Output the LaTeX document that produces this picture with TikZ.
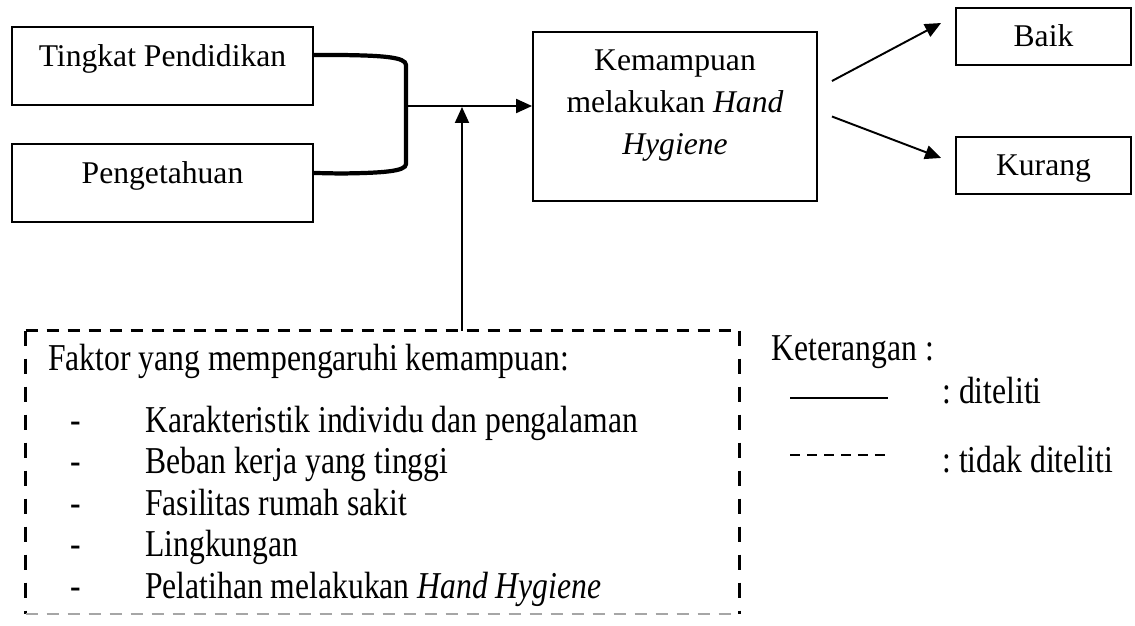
\documentclass[tikz,border=0pt]{standalone}
\usepackage{graphicx}
\usepackage{fontspec}
\setmainfont{Liberation Serif}
\usetikzlibrary{arrows.meta,positioning}
\frenchspacing
\newcommand{\tinggi}[1]{\scalebox{1}[1.2]{#1}}
\tikzset{>={Triangle[length=0.32cm,width=0.28cm]},
  kotak/.style={draw, line width=1.1pt, inner sep=0pt},
  variabel/.style={kotak, minimum width=6.02cm, text height=0.8cm, text depth=0.76cm},
  hasil/.style={kotak, minimum width=3.5cm, text height=0.78cm, text depth=0.36cm},
  teks/.style={anchor=base west, inner sep=0pt},
  garis/.style={line width=1.1pt},
  putus/.style={line width=1.7pt, dash pattern=on 0.24cm off 0.18cm}}

\begin{document}
\begin{tikzpicture}[x=0.02cm, y=-0.02cm, font=\fontsize{18}{24}\selectfont]
                \useasboundingbox (0,0) rectangle (1135,625);
                \node[variabel] (tp) at (162.5,66) {Tingkat Pendidikan};
                \node[variabel, below of=tp, node distance=2.34cm] (pk) {Pengetahuan};
                \node[kotak, minimum width=5.68cm, minimum height=3.38cm] (kemampuan) at (675,116.5) {};
                \node[align=center, anchor=north, inner sep=0pt] (kemtext) at ([yshift=-0.36cm]kemampuan.north)
                  {Kemampuan\\melakukan \textit{Hand}\\\textit{Hygiene}};
                \node[hasil] (baik) at (1043.5,36.5) {Baik};
                \node[hasil, below of=baik, node distance=2.58cm] (kurang) {Kurang};
                \node[minimum width=14.26cm, minimum height=5.66cm, inner sep=0pt] (faktor) at (382.5,472.5) {};
                % gabungan dua variabel
                \draw[line width=2.4pt] ([yshift=0.22cm]tp.east) -- (340,55) .. controls (382,55.5) and (406,57) .. (406,65)
                  -- (406,164) .. controls (406,171.5) and (382,173) .. (340,173.5) -- ([yshift=0.2cm]pk.east);
                \coordinate (gabung) at (406,106);
                \coordinate (masuk) at (462,106);
                \draw[->, garis] (gabung) -- (gabung -| kemampuan.west);
                \draw[->, garis] (faktor.north -| masuk) -- ([yshift=-0.02cm]masuk);
                \draw[->, garis] ([xshift=0.28cm,yshift=0.71cm]kemampuan.east) -- ([xshift=-0.28cm,yshift=0.27cm]baik.west);
                \draw[->, garis] ([xshift=0.28cm]kemampuan.east) -- ([xshift=-0.28cm,yshift=0.15cm]kurang.west);
                % kotak putus-putus
                \draw[putus] (faktor.north west) -- (faktor.north east);
                \draw[putus, dash pattern=on 0.3cm off 0.26cm] (faktor.north west) -- (faktor.south west);
                \draw[putus, dash pattern=on 0.3cm off 0.26cm] (faktor.north east) -- (faktor.south east);
                \draw[line width=1pt, gray!70, dash pattern=on 0.24cm off 0.18cm] (faktor.south west) -- (faktor.south east);
                \node[teks] (judul) at (48,370) {\tinggi{Faktor yang mempengaruhi kemampuan:}};
                \foreach \t [count=\i] in {Karakteristik individu dan pengalaman, Beban kerja yang tinggi,
                    Fasilitas rumah sakit, Lingkungan, Pelatihan melakukan \textit{Hand Hygiene}}
                  {\node[teks] (strip\i) at (70,{390.5+41.5*\i}) {\tinggi{-}};
                   \node[teks] (item\i) at (145,{390.5+41.5*\i}) {\tinggi{\t}};}
                % keterangan
                \node[teks] (ket) at (771,360) {\tinggi{Keterangan :}};
                \coordinate (s1) at (790,398);
                \coordinate (s2) at (888,398);
                \coordinate (d1) at (790,455);
                \coordinate (d2) at (888,455);
                \draw[garis] (s1) -- (s2);
                \draw[line width=1.7pt, dash pattern=on 0.2cm off 0.14cm] (d1) -- (d2);
                \node[teks] (diteliti) at (942,403) {\tinggi{: diteliti}};
                \node[teks] (tidak) at (942,472) {\tinggi{: tidak diteliti}};
              \end{tikzpicture}
\end{document}
